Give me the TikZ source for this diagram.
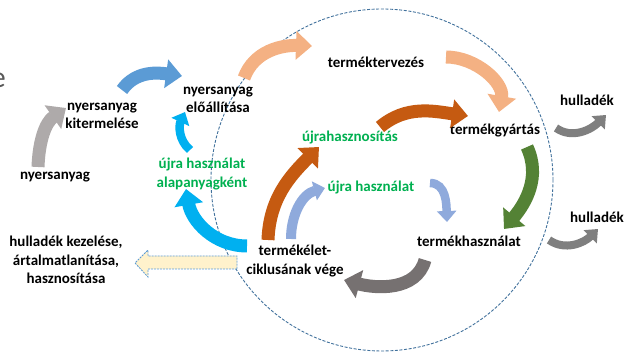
\documentclass[tikz,border=0pt]{standalone}
\usepackage{fontspec}
\setmainfont{Carlito}
\usetikzlibrary{arrows.meta, positioning}

\definecolor{szurke}{HTML}{AEAAAA}
\definecolor{kek}{HTML}{5B9BD5}
\definecolor{barack}{HTML}{F4B183}
\definecolor{rozsda}{HTML}{C55A11}
\definecolor{zold}{HTML}{548235}
\definecolor{sotetszurke}{HTML}{767171}
\definecolor{kozepszurke}{HTML}{7F7F7F}
\definecolor{halvanykek}{HTML}{8FAADC}
\definecolor{cian}{HTML}{00B0F0}
\definecolor{zoldbetu}{HTML}{00B050}
\definecolor{sargas}{HTML}{FFF2CC}
\definecolor{korvonal}{HTML}{41719C}

\begin{document}
\begin{tikzpicture}[x=1pt,y=1pt,
  lbl/.style={font=\bfseries\fontsize{15}{18.5}\selectfont,align=center,inner sep=0pt},
  glbl/.style={lbl,text=zoldbetu},
  nagynyil/.style={line width=13pt,-{Triangle[width=28pt,length=16pt]}},
  kisnyil/.style={line width=8.5pt,-{Triangle[width=19pt,length=11pt]}},
  hulladeknyil/.style={line width=8pt,-{Triangle[width=18pt,length=11pt]},kozepszurke},
  kor/.style={korvonal,line width=0.9pt,dash pattern=on 3pt off 1.6pt}
]
  \useasboundingbox (0,0) rectangle (625,352);

  \draw[kor] (382,172) circle[radius=171];

  \node[lbl] (nyers)   at (55,175)  {nyersanyag};
  \node[lbl] (kiterm)  at (102,236) {nyersanyag\\kitermelése};
  \node[lbl] (eloall)  at (218,252) {nyersanyag\\előállítása};
  \node[lbl] (terv)    at (376,290) {terméktervezés};
  \node[lbl] (gyart)   at (495,221) {termékgyártás};
  \node[lbl] (hull1)   at (587,252) {hulladék};
  \node[lbl] (hull2)   at (597,135) {hulladék};
  \node[lbl] (haszn)   at (469,111) {termékhasználat};
  \node[lbl] (vege)    at (295,91)  {termékélet-\\ciklusának vége};
  \node[lbl] (kezel)   at (66,92)   {hulladék kezelése,\\ártalmatlanítása,\\hasznosítása};
  \node[glbl] (ujrahn) at (350,214) {újrahasznosítás};
  \node[glbl] (ujrah)  at (371,164) {újra használat};
  \node[glbl] (alapa)  at (202,178) {újra használat\\alapanyagként};
  \node[anchor=east,inner sep=0pt,text=black!65,font=\fontsize{30}{30}\selectfont] (cimmarad) at (6,272) {e};

  \coordinate (a1) at (38,185);  \coordinate (b1) at (66,244);
  \coordinate (a2) at (122,262); \coordinate (b2) at (182,276);
  \coordinate (a3) at (244,274); \coordinate (b3) at (312,306);
  \coordinate (a4) at (446,295); \coordinate (b4) at (499,240);
  \coordinate (a5) at (268,112); \coordinate (b5) at (319,205);
  \coordinate (a6) at (380,225); \coordinate (b6) at (468,236);
  \coordinate (a7) at (527,205); \coordinate (b7) at (504,123);
  \coordinate (a8) at (425,92);  \coordinate (b8) at (344,72);
  \coordinate (a9) at (430,169); \coordinate (b9) at (447,130);
  \coordinate (a10) at (291,113); \coordinate (b10) at (325,164);
  \coordinate (a11) at (247,106); \coordinate (b11) at (186,163);
  \coordinate (a12) at (190,202); \coordinate (b12) at (185,240);
  \coordinate (a13) at (556,224); \coordinate (b13) at (606,237);
  \coordinate (a14) at (549,112); \coordinate (b14) at (598,123);
  \coordinate (hegy) at (135,89);

  \draw[nagynyil,szurke] (a1) to[out=88,in=215] (b1);
  \draw[nagynyil,kek] (a2) to[out=55,in=172] (b2);
  \draw[nagynyil,barack] (a3) to[out=70,in=178] (b3);
  \draw[nagynyil,barack] (a4) to[out=0,in=80] (b4);
  \draw[nagynyil,rozsda] (a5) to[out=88,in=225] (b5);
  \draw[nagynyil,rozsda] (a6) to[out=40,in=172] (b6);
  \draw[nagynyil,zold] (a7) to[out=-65,in=50] (b7);
  \draw[nagynyil,sotetszurke] (a8) to[out=-105,in=-15] (b8);
  \draw[kisnyil,halvanykek] (a9) to[out=0,in=92] (b9);
  \draw[kisnyil,line width=10pt,halvanykek] (a10) to[out=90,in=195] (b10);
  \draw[nagynyil,cian] (a11) to[out=180,in=-80] (b11);
  \draw[kisnyil,cian] (a12) to[out=140,in=245] (b12);
  \draw[hulladeknyil] (a13) to[out=-35,in=225] (b13);
  \draw[hulladeknyil] (a14) to[out=-35,in=225] (b14);

  \draw[fill=sargas,draw=kek,line width=0.8pt,dash pattern=on 2pt off 1pt]
    (237,83) -- (148,83) -- (148,75) -- (hegy) -- (148,102) -- (148,96) -- (237,96) -- cycle;
\end{tikzpicture}
\end{document}
